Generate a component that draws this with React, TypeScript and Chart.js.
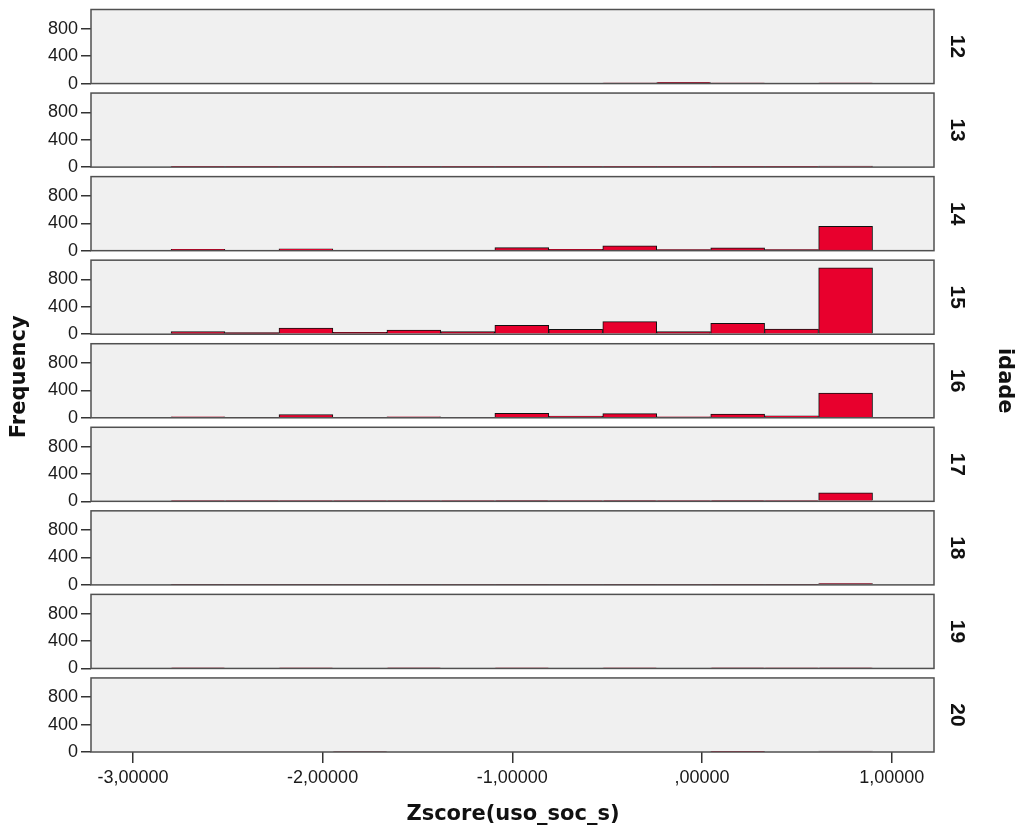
import React, { useEffect, useRef } from "react";
import { Chart, registerables } from "chart.js";

Chart.register(...registerables);

// ---- data ----
const AGES = ["12", "13", "14", "15", "16", "17", "18", "19", "20"];
const BIN_CENTERS = [-2.657, -2.372, -2.088, -1.803, -1.519, -1.235, -0.95, -0.666, -0.381, -0.097, 0.188, 0.472, 0.757];
const FREQ_12 = [0, 0, 0, 0, 0, 0, 0, 0, 1, 18, 1, 0, 2];
const FREQ_13 = [3, 1, 5, 1, 3, 1, 5, 1, 4, 1, 5, 2, 15];
const FREQ_14 = [20, 8, 25, 5, 8, 10, 45, 20, 70, 15, 42, 15, 355];
const FREQ_15 = [40, 25, 90, 28, 60, 38, 130, 70, 185, 38, 160, 75, 970];
const FREQ_16 = [15, 5, 48, 8, 15, 10, 65, 25, 60, 15, 55, 30, 362];
const FREQ_17 = [5, 2, 6, 2, 5, 3, 8, 4, 8, 4, 10, 6, 125];
const FREQ_18 = [3, 1, 4, 1, 3, 1, 3, 1, 4, 1, 4, 2, 18];
const FREQ_19 = [5, 0, 1, 0, 5, 0, 1, 0, 1, 0, 5, 1, 6];
const FREQ_20 = [0, 0, 0, 10, 0, 0, 0, 0, 0, 0, 1, 0, 12];
const FREQS = [FREQ_12, FREQ_13, FREQ_14, FREQ_15, FREQ_16, FREQ_17, FREQ_18, FREQ_19, FREQ_20];
const X_TICKS = [-3, -2, -1, 0, 1];
const Y_TICKS = [0, 400, 800];
const X_MIN = -3.221;
const X_MAX = 1.223;
const Y_MAX = 1220;

const X_TITLE = "Zscore(uso_soc_s)";
const Y_TITLE = "Frequency";
const PANEL_TITLE = "idade";

// ---- styles ----
const GAP = 9.5;
const BAR_COLOR = "#e8002d";
const PANEL_BG = "#f0f0f0";
const PANEL_BORDER = "#505050";
const TICK_FONT = { family: "'Liberation Sans', Arial, sans-serif", size: 18 };
const TITLE_FONT = "bold 21px 'DejaVu Sans', Verdana, sans-serif";
const LABEL_FONT = "bold 21px 'Liberation Sans', Arial, sans-serif";

function fmtX(v: number): string {
  let s = Math.abs(v).toFixed(5).replace(".", ",");
  if (s.startsWith("0,")) s = s.slice(1);
  return (v < 0 ? "-" : "") + s;
}

const panelPlugin = {
  id: "panels",
  beforeDatasetsDraw(chart: any) {
    const { ctx, chartArea } = chart;
    ctx.save();
    ctx.fillStyle = PANEL_BG;
    for (const age of AGES) {
      const s = chart.scales["y" + age];
      const top = s.top + GAP;
      ctx.fillRect(chartArea.left, top, chartArea.right - chartArea.left, s.bottom - top);
    }
    ctx.restore();
  },
  afterDatasetsDraw(chart: any) {
    const { ctx, chartArea } = chart;
    ctx.save();
    ctx.strokeStyle = PANEL_BORDER;
    ctx.lineWidth = 1.5;
    for (const age of AGES) {
      const s = chart.scales["y" + age];
      const top = s.top + GAP;
      ctx.strokeRect(chartArea.left, top, chartArea.right - chartArea.left, s.bottom - top);
      ctx.save();
      ctx.translate(957, (top + s.bottom) / 2);
      ctx.rotate(Math.PI / 2);
      ctx.fillStyle = "#111";
      ctx.font = LABEL_FONT;
      ctx.textAlign = "center";
      ctx.textBaseline = "middle";
      ctx.fillText(age, 0, 0);
      ctx.restore();
    }
    const first = chart.scales["y" + AGES[0]];
    const last = chart.scales["y" + AGES[AGES.length - 1]];
    const midY = (first.top + GAP + last.bottom) / 2;
    ctx.fillStyle = "#111";
    ctx.font = TITLE_FONT;
    ctx.textAlign = "center";
    ctx.textBaseline = "middle";
    ctx.save();
    ctx.translate(20, midY - 4);
    ctx.rotate(-Math.PI / 2);
    ctx.fillText(Y_TITLE, 0, 0);
    ctx.restore();
    ctx.save();
    ctx.translate(1004, midY);
    ctx.rotate(Math.PI / 2);
    ctx.fillText(PANEL_TITLE, 0, 0);
    ctx.restore();
    ctx.fillText(X_TITLE, (chartArea.left + chartArea.right) / 2 + 0.5, 815);
    ctx.restore();
  },
};

export default function App() {
  const ref = useRef<HTMLCanvasElement | null>(null);
  useEffect(() => {
    if (!ref.current) return;
    const scales: any = {
      x: {
        type: "linear",
        position: "bottom",
        offset: false,
        min: X_MIN,
        max: X_MAX,
        afterBuildTicks: (s: any) => {
          s.ticks = X_TICKS.map((v) => ({ value: v }));
        },
        afterFit: (s: any) => {
          s.height = 79;
          s.paddingLeft = 0;
          s.paddingRight = 0;
        },
        ticks: {
          callback: (v: any) => fmtX(Number(v)),
          font: TICK_FONT,
          color: "#1a1a1a",
          padding: 4,
          maxRotation: 0,
          autoSkip: false,
        },
        grid: { offset: false, drawOnChartArea: false, drawTicks: true, tickLength: 11, color: "#333", lineWidth: 1.5 },
        border: { display: false },
      },
    };
    [...AGES].reverse().forEach((age) => {
      scales["y" + age] = {
        type: "linear",
        position: "left",
        stack: "idade",
        stackWeight: 1,
        min: 0,
        max: Y_MAX,
        afterBuildTicks: (s: any) => {
          s.ticks = Y_TICKS.map((v) => ({ value: v }));
        },
        afterFit: (s: any) => {
          s.width = 91;
          s.paddingTop = 0;
          s.paddingBottom = 0;
        },
        ticks: { font: TICK_FONT, color: "#1a1a1a", padding: 3, autoSkip: false },
        grid: { drawOnChartArea: false, drawTicks: true, tickLength: 10, color: "#333", lineWidth: 1.5 },
        border: { display: false },
      };
    });
    const datasets = AGES.map((age, i) => ({
      label: age,
      yAxisID: "y" + age,
      data: BIN_CENTERS.map((x, j) => ({ x, y: FREQS[i][j] })),
      backgroundColor: BAR_COLOR,
      borderColor: "#111",
      borderWidth: 1,
      grouped: false,
      barPercentage: 1,
      categoryPercentage: 1,
    }));
    const chart = new Chart(ref.current, {
      type: "bar",
      data: { datasets },
      options: {
        animation: false,
        responsive: false,
        devicePixelRatio: 1,
        layout: { padding: { left: 0, right: 87, top: 0, bottom: 0 } },
        plugins: { legend: { display: false }, tooltip: { enabled: false } },
        scales,
      },
      plugins: [panelPlugin],
    } as any);
    return () => chart.destroy();
  }, []);
  return (
    <div style={{ position: "absolute", left: 0, top: 0, width: 1021, height: 831, background: "#fff" }}>
      <canvas ref={ref} width={1021} height={831} style={{ display: "block" }} />
    </div>
  );
}
